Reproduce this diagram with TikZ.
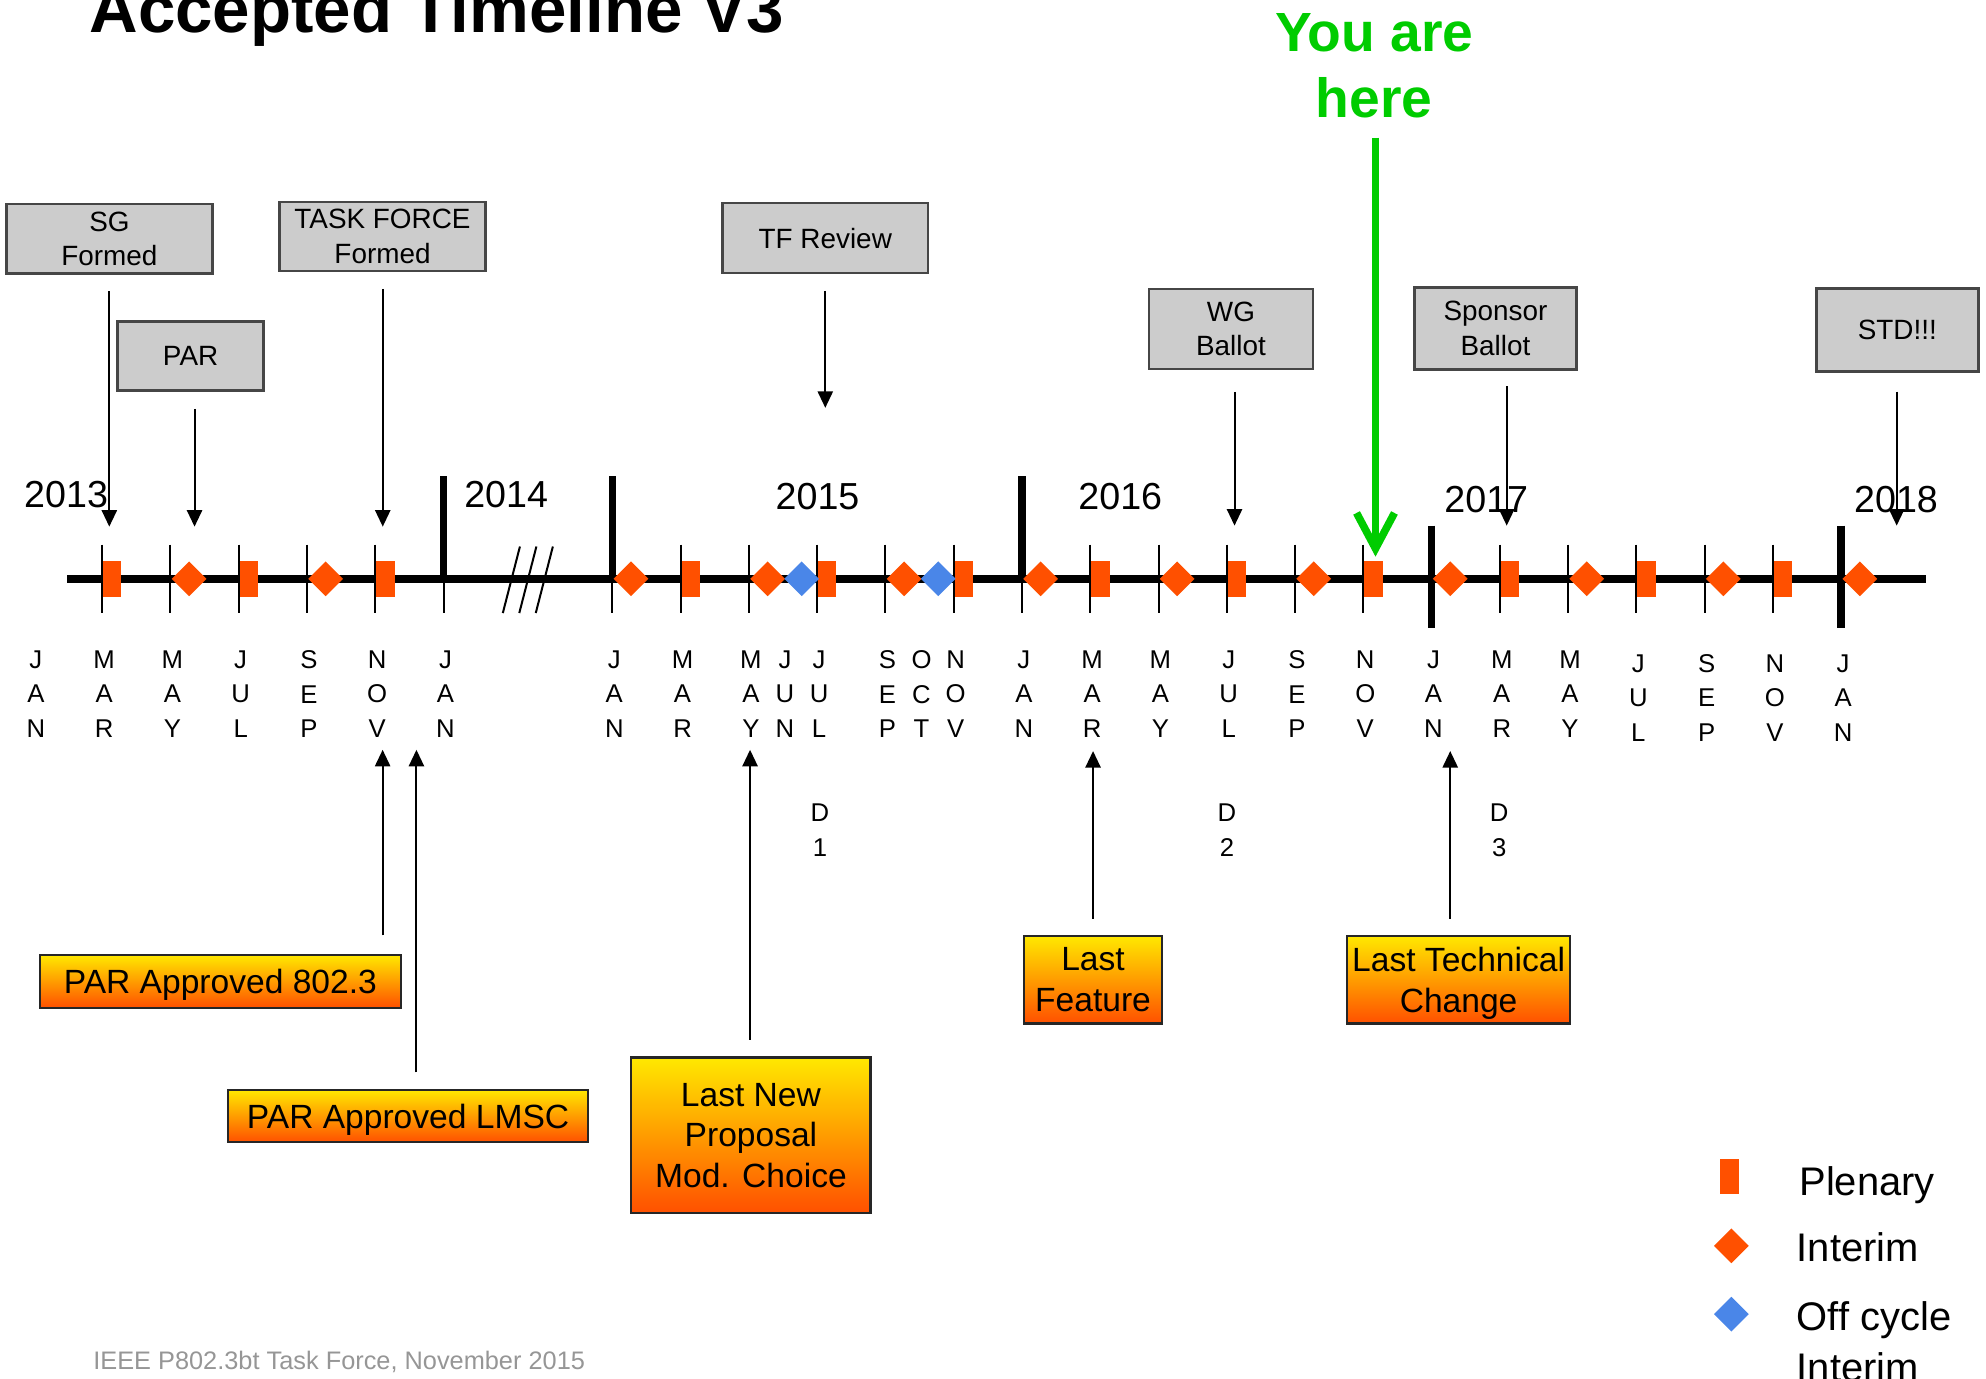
\documentclass[tikz,border=0pt]{standalone}
\usepackage{fontspec}
\setmainfont{Liberation Sans}
\usetikzlibrary{arrows.meta, shapes.geometric}

\definecolor{mred}{RGB}{255,80,0}
\definecolor{mblue}{RGB}{74,134,232}
\definecolor{hgreen}{RGB}{0,204,0}
\definecolor{boxgray}{RGB}{204,204,204}
\definecolor{boxline}{RGB}{70,70,70}
\definecolor{oyellow}{RGB}{255,232,0}
\definecolor{oorange}{RGB}{255,80,0}
\definecolor{footgray}{RGB}{150,150,150}

\newcommand{\mstack}[3]{#1\\#2\\#3}

\begin{document}
\begin{tikzpicture}[x=0.01cm, y=-0.01cm,
		tick/.style={line width=0.45pt},
		yearbar/.style={line width=1.7pt},
		mon/.style={anchor=north, inner sep=0pt, align=center, font=\fontsize{5.77}{7.74}\selectfont},
		yr/.style={anchor=base, inner sep=0pt, font=\fontsize{8.45}{10}\selectfont},
		plenary/.style={rectangle, fill=mred, inner sep=0pt, minimum width=0.145cm, minimum height=0.28cm, anchor=west},
		interim/.style={diamond, fill=mred, inner sep=0pt, minimum width=0.28cm, minimum height=0.28cm, anchor=west},
		offcycle/.style={interim, fill=mblue},
		gbox/.style={draw=boxline, fill=boxgray, line width=0.6pt, align=center, inner sep=0pt,
						font=\fontsize{6.26}{7.7}\selectfont},
		obox/.style={draw=black!85, top color=oyellow, bottom color=oorange, line width=0.5pt, align=center,
						inner sep=0pt, text depth=0pt, font=\fontsize{7.54}{9.1}\selectfont},
		evt/.style={-{Triangle[width=3.4pt,length=3.7pt]}, line width=0.45pt},
		herearrow/.style={draw=hgreen, line width=1.7pt, -{Straight Barb[length=8pt,width=8.5pt]}},
		leg/.style={anchor=base west, inner sep=0pt, font=\fontsize{8.96}{11.4}\selectfont}]
	\useasboundingbox (0,0) rectangle (1568,1088);

	\node[anchor=base west, inner sep=0pt, font=\bfseries\fontsize{15.1}{18}\selectfont] (title) at (70,26) {Accepted Timeline V3};
	\node[anchor=north, inner sep=0pt, align=center, text=hgreen, font=\bfseries\fontsize{12.4}{14.8}\selectfont] (you) at (1085,10.2) {You are\\here};

	% timeline
	\foreach \n in {2,4,...,12} \draw[tick] ({26.8+\n*26.95},430) -- ++(0,54);
	\foreach \n in {0,2,...,36} \draw[tick] ({483.5+\n*26.95},430) -- ++(0,54);
	\draw[line width=1.7pt] (53,457) -- (1521,457);
	\foreach \x in {350.2,483.5,806.9} \draw[yearbar] (\x,376) -- (\x,457);
	\foreach \x in {1130.3,1453.7} \draw[yearbar] (\x,415) -- (\x,496);
	\foreach \d in {0,13,26} \draw[tick] ({397+\d},484) -- ++(13.5,-52.5);

	\foreach \n in {2,6,10} \node[plenary] (pa\n) at ({26.8+\n*26.95},457) {};
	\foreach \n in {4,8} \node[interim] (ia\n) at ({26.8+\n*26.95},457) {};
	\foreach \n in {2,6,...,34} \node[plenary] (pb\n) at ({483.5+\n*26.95},457) {};
	\foreach \n in {0,4,...,36} \node[interim] (ib\n) at ({483.5+\n*26.95},457) {};
	\foreach \n in {5,9} \node[offcycle] (ob\n) at ({483.5+\n*26.95},457) {};

	\foreach \n/\m in {0/JAN,2/MAR,4/MAY,6/JUL,8/SEP,10/NOV,12/JAN}
		\node[mon] (ma\n) at ({28.3+\n*26.95},513) {\expandafter\mstack\m};
	\foreach \n/\m in {0/JAN,2/MAR,4/MAY,5/JUN,6/JUL,8/SEP,9/OCT,10/NOV,12/JAN,14/MAR,16/MAY,18/JUL,20/SEP,22/NOV,24/JAN,26/MAR,28/MAY}
		\node[mon] (mb\n) at ({485+\n*26.95},513) {\expandafter\mstack\m};
	\foreach \n/\m in {30/JUL,32/SEP,34/NOV,36/JAN}
		\node[mon] (mb\n) at ({485+\n*26.95},516) {\expandafter\mstack\m};

	\node[mon] (d1) at (647.4,634) {D\\1};
	\node[mon] (d2) at (968.7,634) {D\\2};
	\node[mon] (d3) at (1183.7,634) {D\\3};

	\node[yr] (y13) at (52.2,401) {2013};
	\node[yr] (y14) at (399.6,401) {2014};
	\node[yr] (y15) at (645.5,402) {2015};
	\node[yr] (y16) at (884.5,402) {2016};
	\node[yr] (y17) at (1173.5,405) {2017};
	\node[yr] (y18) at (1497,405) {2018};

	% milestones above
	\node[gbox, minimum width=1.627cm, minimum height=0.548cm] (sg) at (86.4,188.5) {SG\\Formed};
	\node[gbox, minimum width=1.15cm, minimum height=0.545cm] (par) at (150.5,281) {PAR};
	\node[gbox, minimum width=1.63cm, minimum height=0.545cm] (tf) at (302,186.7) {TASK FORCE\\Formed};
	\node[gbox, minimum width=1.62cm, minimum height=0.553cm] (tfr) at (651.6,188) {TF Review};
	\node[gbox, minimum width=1.296cm, minimum height=0.63cm] (wg) at (971.9,259.8) {WG\\Ballot};
	\node[gbox, minimum width=1.275cm, minimum height=0.647cm] (spb) at (1180.7,259.2) {Sponsor\\Ballot};
	\node[gbox, minimum width=1.28cm, minimum height=0.655cm] (std) at (1498,260.8) {STD!!!};

	\coordinate (tsg) at (86.3,415.8);
	\coordinate (tpar) at (153.6,415.8);
	\coordinate (ttf) at (302.2,415.8);
	\coordinate (ttfr) at (651.6,322);
	\coordinate (twg) at (974.7,415);
	\coordinate (tspb) at (1189.6,415);
	\coordinate (tstd) at (1497.5,415);
	\draw[evt, shorten <=0.13cm] (tsg |- sg.south) -- (tsg);
	\draw[evt, shorten <=0.135cm] (tpar |- par.south) -- (tpar);
	\draw[evt, shorten <=0.13cm] (ttf |- tf.south) -- (ttf);
	\draw[evt, shorten <=0.13cm] (ttfr |- tfr.south) -- (ttfr);
	\draw[evt, shorten <=0.17cm] (twg |- wg.south) -- (twg);
	\draw[evt, shorten <=0.125cm] (tspb |- spb.south) -- (tspb);
	\draw[evt, shorten <=0.145cm] (tstd |- std.south) -- (tstd);

	\coordinate (now) at (1086,439.5);
	\draw[herearrow, shorten <=0.145cm] (now |- you.south) -- (now);

	% milestones below
	\node[obox, minimum width=2.845cm, minimum height=0.416cm] (pa8023) at (174,774.8) {PAR Approved 802.3};
	\node[obox, minimum width=2.84cm, minimum height=0.413cm] (palmsc) at (322.2,881.2) {PAR Approved LMSC};
	\node[obox, minimum width=1.888cm, minimum height=1.224cm] (lnp) at (592.9,896.2) {Last New\\Proposal\\Mod. Choice};
	\node[obox, minimum width=1.09cm, minimum height=0.69cm] (lf) at (863,773.5) {Last\\Feature};
	\node[obox, minimum width=1.763cm, minimum height=0.69cm] (ltc) at (1151.6,773.5) {Last Technical\\Change};

	\coordinate (tpa) at (302.1,592);
	\coordinate (tpl) at (328.8,592);
	\coordinate (tlnp) at (592.2,592);
	\coordinate (tlf) at (863,593);
	\coordinate (tltc) at (1145,593);
	\draw[evt, shorten <=0.145cm] (tpa |- pa8023.north) -- (tpa);
	\draw[evt, shorten <=0.13cm] (tpl |- palmsc.north) -- (tpl);
	\draw[evt, shorten <=0.13cm] (tlnp |- lnp.north) -- (tlnp);
	\draw[evt, shorten <=0.126cm] (tlf |- lf.north) -- (tlf);
	\draw[evt, shorten <=0.126cm] (tltc |- ltc.north) -- (tltc);

	% legend
	\node[plenary, anchor=center] (lgp) at (1365.5,929) {};
	\node[interim, anchor=center] (lgi) at (1367,983.6) {};
	\node[offcycle, anchor=center] (lgo) at (1367,1037.6) {};
	\node[leg] (lgpt) at (1420,943.5) {Plenary};
	\node[leg] (lgit) at (1418,996) {Interim};
	\node[leg, anchor=north west, align=left] (lgot) at (1418,1027) {Off cycle\\Interim};

	\node[anchor=base west, inner sep=0pt, text=footgray, font=\fontsize{5.69}{7}\selectfont] (foot) at (73,1081.6) {IEEE P802.3bt Task Force, November 2015};
\end{tikzpicture}
\end{document}
